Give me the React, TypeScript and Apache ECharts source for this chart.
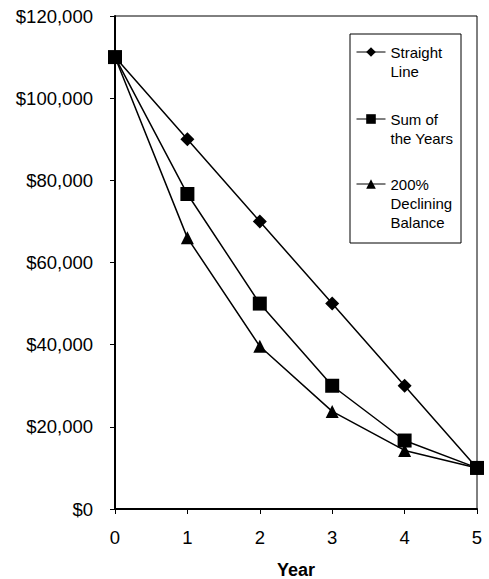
import React, { useEffect, useRef } from "react";
import * as echarts from "echarts";

// Depreciation of a $110,000 asset with $10,000 salvage value over 5 years
const years = [0, 1, 2, 3, 4, 5];
const straightLine = [110000, 90000, 70000, 50000, 30000, 10000];
const sumOfYears = [110000, 76667, 50000, 30000, 16667, 10000];
const decliningBalance = [110000, 66000, 39600, 23760, 14256, 10000];
const yTicks = { min: 0, max: 120000, step: 20000 };

const seriesNames = ["Straight\nLine", "Sum of\nthe Years", "200%\nDeclining\nBalance"];

const FONT = "'Liberation Sans', Arial, Helvetica, sans-serif";
const LINE_H = 19;

const money = (v: number) => "$" + v.toLocaleString("en-US");

// Pad the label with blank lines on top so its first line sits level with the marker
const topAligned = (name: string) => {
  const n = name.split("\n").length;
  return "\n".repeat(n - 1) + name;
};

export default function App() {
  const ref = useRef<HTMLDivElement>(null);

  useEffect(() => {
    if (!ref.current) return;
    const chart = echarts.init(ref.current, null, { renderer: "svg" });

    const mk = (name: string, vals: number[], symbol: string, size: number) => ({
      name,
      type: "line",
      data: years.map((y, i) => [y, vals[i]]),
      symbol,
      symbolSize: size,
      itemStyle: { color: "#000" },
      lineStyle: { color: "#000", width: 1.5 },
      z: 3,
    });

    // one legend block per series
    const legendCenters = [52, 119, 184];
    const legends = seriesNames.map((name, i) => {
      const n = name.split("\n").length;
      const blockH = (2 * n - 1) * LINE_H;
      return {
        data: [name],
        orient: "vertical",
        left: 356,
        top: legendCenters[i] - blockH / 2,
        padding: 0,
        itemWidth: 29,
        itemHeight: 12,
        lineStyle: { width: 1 },
        selectedMode: false,
        formatter: topAligned,
        textStyle: {
          fontFamily: FONT,
          fontSize: 15,
          color: "#000",
          lineHeight: LINE_H,
        },
      };
    });

    chart.setOption({
      animation: false,
      textStyle: { fontFamily: FONT },
      grid: {
        left: 115,
        right: 12,
        top: 16,
        bottom: 70,
        show: true,
        borderColor: "#000",
        borderWidth: 1,
        outerBoundsMode: "none",
        containLabel: false,
      },
      legend: legends,
      graphic: [
        {
          type: "rect",
          shape: { x: 350, y: 34, width: 111, height: 209 },
          style: { fill: "#fff", stroke: "#000", lineWidth: 1 },
          z: 1,
        },
      ],
      xAxis: {
        type: "value",
        min: 0,
        max: 5,
        interval: 1,
        name: "Year",
        nameLocation: "middle",
        nameGap: 53,
        nameTextStyle: {
          fontFamily: FONT,
          fontSize: 18,
          fontWeight: "bold",
          color: "#000",
          lineHeight: 16,
        },
        axisLine: { lineStyle: { color: "#000", width: 2 } },
        axisTick: { show: true, inside: false, length: 5, lineStyle: { color: "#000", width: 1 } },
        axisLabel: { fontFamily: FONT, fontSize: 18.5, color: "#000", margin: 19 },
        splitLine: { show: false },
      },
      yAxis: {
        type: "value",
        min: yTicks.min,
        max: yTicks.max,
        interval: yTicks.step,
        axisLine: { show: true, lineStyle: { color: "#000", width: 2 } },
        axisTick: { show: true, inside: false, length: 5, lineStyle: { color: "#000", width: 1 } },
        axisLabel: { fontFamily: FONT, fontSize: 18.5, color: "#000", margin: 22, formatter: money },
        splitLine: { show: false },
      },
      series: [
        mk(seriesNames[0], straightLine, "diamond", 14),
        mk(seriesNames[1], sumOfYears, "rect", 14),
        mk(seriesNames[2], decliningBalance, "triangle", 13),
      ],
    });

    return () => chart.dispose();
  }, []);

  return <div ref={ref} style={{ width: 489, height: 579, position: "absolute", left: 0, top: 0 }} />;
}
